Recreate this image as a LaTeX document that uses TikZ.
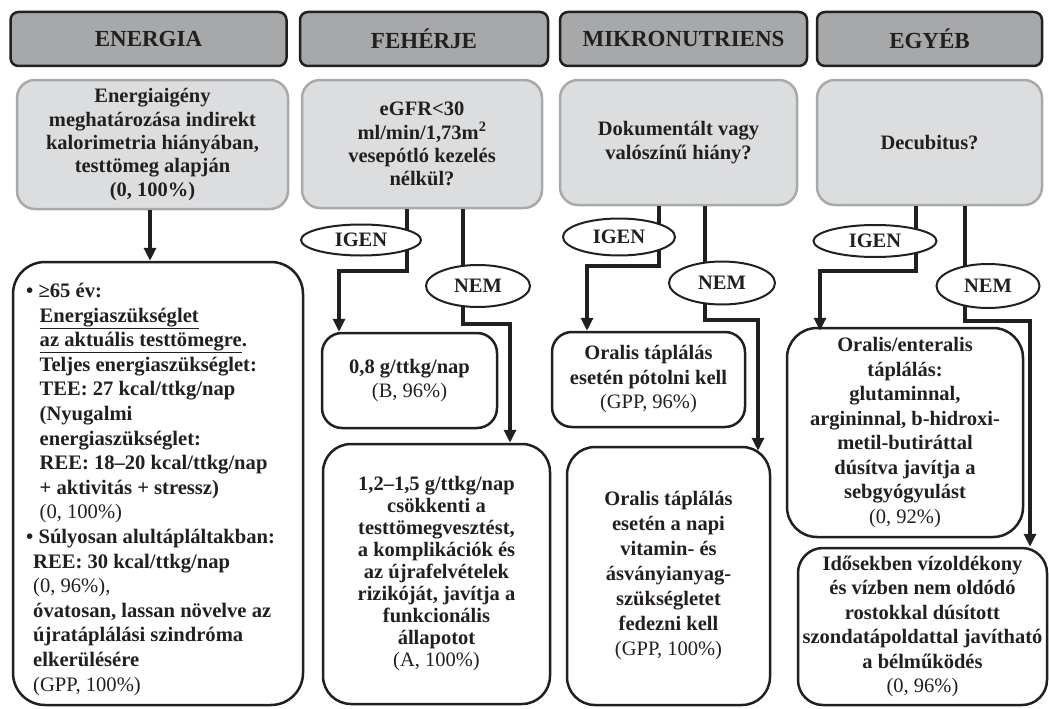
\documentclass[tikz,border=0pt]{standalone}
\usepackage{fontspec}
\setmainfont{Liberation Serif}
\usetikzlibrary{arrows.meta,shapes.geometric}
\definecolor{ink}{RGB}{35,31,32}
\definecolor{hdfill}{RGB}{167,168,170}
\definecolor{qfill}{RGB}{220,221,222}
\definecolor{qline}{RGB}{168,169,171}
\begin{document}
\begin{tikzpicture}[x=1pt,y=-1pt,
  every node/.style={text=ink},
  sz/.style 2 args={minimum width=#1, minimum height=#2, inner sep=0pt},
  hd/.style={rectangle, draw=ink, line width=2.5pt, fill=hdfill, rounded corners=8pt,
     font=\bfseries\fontsize{23}{26}\selectfont},
  qb/.style={rectangle, draw=qline, line width=2.5pt, fill=qfill, rounded corners=18pt,
     align=center, font=\bfseries\fontsize{20.5}{23.3}\selectfont},
  rb/.style={rectangle, draw=ink, line width=2.5pt, fill=white, rounded corners=#1,
     align=center, font=\bfseries\fontsize{20.5}{24.5}\selectfont},
  el/.style={ellipse, draw=ink, line width=2pt, fill=white,
     font=\bfseries\fontsize{20.5}{24}\selectfont},
  conn/.style={draw=ink, line width=3.7pt, -{Triangle[length=13pt,width=12pt]}}]
\useasboundingbox (0,0) rectangle (1049,709);

% headers
\node[hd, sz={276}{54}] (hE) at (148.5,39) {ENERGIA};
\node[hd, sz={248}{54}] (hF) at (424,39) {FEHÉRJE};
\node[hd, sz={247}{54}] (hM) at (683.5,39) {MIKRONUTRIENS};
\node[hd, sz={225}{54}] (hY) at (929.5,39) {EGYÉB};

% question boxes
\node[qb, sz={271}{129}] (qE) at (152.5,144.5) {Energiaigény\\meghatározása indirekt\\kalorimetria hiányában,\\testtömeg alapján\\(0, 100\%)};
\node[qb, sz={240}{128}] (qF) at (422,144) {eGFR<30\\ml/min/1,73m\textsuperscript{2}\\vesepótló kezelés\\nélkül?};
\node[qb, sz={237}{125}] (qM) at (678.5,142.5) {Dokumentált vagy\\valószínű hiány?};
\node[qb, sz={225}{125}] (qY) at (929.5,142.5) {Decubitus?};

% result boxes
\node[rb=32pt, sz={290}{443}] (bE) at (158,483.5) {};
\node[anchor=north west, align=left, inner sep=0pt,
      font=\bfseries\fontsize{20.6}{24.6}\selectfont] (tE) at (26,283) {%
• ≥65 év:\\
\hspace*{13.5pt}\underline{Energiaszükséglet}\\
\hspace*{13.5pt}\underline{az aktuális testtömegre}.\\
\hspace*{13.5pt}Teljes energiaszükséglet:\\
\hspace*{13.5pt}TEE: 27 kcal/ttkg/nap\\
\hspace*{13.5pt}(Nyugalmi\\
\hspace*{13.5pt}energiaszükséglet:\\
\hspace*{13.5pt}REE: 18–20 kcal/ttkg/nap\\
\hspace*{13.5pt}+ aktivitás + stressz)\\
\hspace*{13.5pt}{\mdseries (0, 100\%)}\\
• Súlyosan alultápláltakban:\\
\hspace*{7pt}REE: 30 kcal/ttkg/nap\\
\hspace*{7pt}{\mdseries (0, 96\%),}\\
\hspace*{7pt}óvatosan, lassan növelve az\\
\hspace*{7pt}újratáplálási szindróma\\
\hspace*{7pt}elkerülésére\\
\hspace*{7pt}{\mdseries (GPP, 100\%)}};

\node[rb=20pt, sz={175}{95}] (bF1) at (409.5,380.5) {0,8 g/ttkg/nap\\{\mdseries (B, 96\%)}};
\node[rb=28pt, sz={227}{260}, font=\bfseries\fontsize{20.5}{22}\selectfont] (bF2) at (436.5,574) {1,2–1,5 g/ttkg/nap\\csökkenti a\\testtömegvesztést,\\a komplikációk és\\az újrafelvételek\\rizikóját, javítja a\\funkcionális\\állapotot\\{\mdseries (A, 100\%)}};
\node[rb=20pt, sz={193}{95}] (bM1) at (648.5,379.5) {Oralis táplálás\\esetén pótolni kell\\{\mdseries (GPP, 96\%)}};
\node[rb=28pt, sz={203}{258}, font=\bfseries\fontsize{20.5}{25}\selectfont] (bM2) at (668.5,576) {Oralis táplálás\\esetén a napi\\vitamin- és\\ásványianyag-\\szükségletet\\fedezni kell\\{\mdseries (GPP, 100\%)}};
\node[rb=30pt, sz={236}{209}] (bY1) at (905,432.5) {Oralis/enteralis\\táplálás:\\glutaminnal,\\argininnal, b-hidroxi-\\metil-butiráttal\\dúsítva javítja a\\sebgyógyulást\\{\mdseries (0, 92\%)}};
\node[rb=25pt, sz={249}{157}] (bY2) at (922.5,626.5) {Idősekben vízoldékony\\és vízben nem oldódó\\rostokkal dúsított\\szondatápoldattal javítható\\a bélműködés\\{\mdseries (0, 96\%)}};

% connectors
\draw[conn] ([xshift=-2.5pt]qE.south) -- ([xshift=-8pt]bE.north);
\draw[conn] ([xshift=-15pt]qF.south) -- ++(0,62) -| ([xshift=-70.5pt]bF1.north);
\draw[conn] ([xshift=41pt]qF.south) -- ++(0,115) -| ([xshift=73.5pt]bF2.north);
\draw[conn] ([xshift=-19.5pt]qM.south) -- ++(0,60) -| ([xshift=-61.5pt]bM1.north);
\draw[conn] ([xshift=26.5pt]qM.south) -- ++(0,114) -| ([xshift=89.5pt,yshift=-5pt]bM2.north);
\draw[conn] ([xshift=-13.5pt]qY.south) -- ++(0,65) -| ([xshift=-85pt,yshift=-4pt]bY1.north);
\draw[conn] ([xshift=35.5pt]qY.south) -- ++(0,115) -| ([xshift=107.5pt]bY2.north);

% yes / no labels
\node[el, sz={120}{31}] (iF) at (361,240) {IGEN};
\node[el, sz={104}{42}] (nF) at (478,286) {NEM};
\node[el, sz={112}{37}] (iM) at (619,237) {IGEN};
\node[el, sz={106}{43}] (nM) at (722,283) {NEM};
\node[el, sz={123}{32}] (iY) at (875,241) {IGEN};
\node[el, sz={103}{44}] (nY) at (988,286) {NEM};
\end{tikzpicture}
\end{document}
